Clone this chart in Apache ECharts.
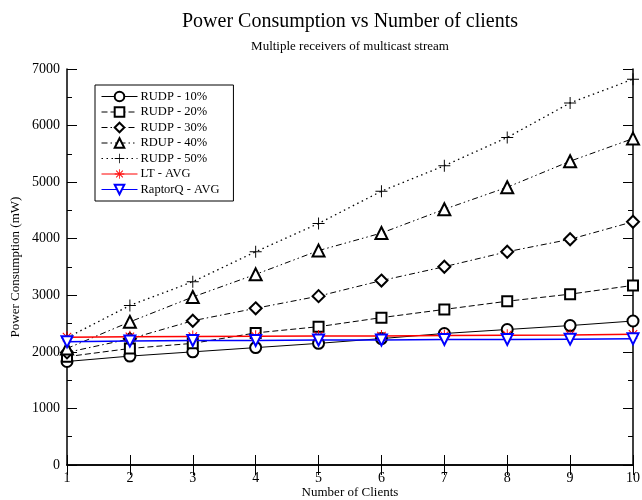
<!DOCTYPE html>
<html>
<head>
<meta charset="utf-8">
<script src="https://cdn.jsdelivr.net/npm/echarts@6/dist/echarts.min.js"></script>
<style>
  html, body { margin: 0; padding: 0; background: #fff; }
  #chart { width: 642px; height: 500px; }
</style>
</head>
<body>
<div id="chart"></div>
<script>
    var clients = [1, 2, 3, 4, 5, 6, 7, 8, 9, 10];
    var rudp10 = [1830, 1925, 2000, 2075, 2150, 2235, 2325, 2395, 2465, 2545];
    var rudp20 = [1915, 2060, 2150, 2335, 2445, 2605, 2750, 2895, 3020, 3175];
    var rudp30 = [1990, 2230, 2550, 2770, 2985, 3260, 3505, 3770, 3990, 4300];
    var rdup40 = [2060, 2530, 2970, 3370, 3790, 4100, 4520, 4910, 5370, 5770];
    var rudp50 = [2250, 2820, 3240, 3770, 4270, 4840, 5290, 5790, 6400, 6820];
    var ltAvg = [2260, 2265, 2270, 2275, 2280, 2280, 2290, 2295, 2300, 2310];
    var raptorqAvg = [2180, 2190, 2200, 2200, 2210, 2210, 2220, 2220, 2225, 2230];

    var serif = "'Liberation Serif', 'DejaVu Serif', serif";
    var plusPath = 'path://M4.6,0h0.8v10h-0.8zM0,4.6h10v0.8h-10z';
    var starPath = 'path://M4.6,0h0.8v10h-0.8zM0,4.6h10v0.8h-10zM1.2,1.8l0.6,-0.6l7,7l-0.6,0.6zM8.8,1.8l-0.6,-0.6l-7,7l0.6,0.6z';

    function pairs(vals) {
        return clients.map(function (c, i) { return [c, vals[i]]; });
    }

    function blackSeries(name, vals, symbol, dash, size, lw) {
        return {
            name: name,
            type: 'line',
            data: pairs(vals),
            symbol: symbol,
            symbolSize: size,
            showAllSymbol: true,
            itemStyle: { color: '#000', borderWidth: 0.8 },
            lineStyle: { color: '#000', width: lw || 1, type: dash },
            emphasis: { disabled: true },
            z: 3
        };
    }

    var chart = echarts.init(document.getElementById('chart'), null, { renderer: 'canvas' });

    var option = {
        backgroundColor: '#fff',
        animation: false,
        title: {
            text: 'Power Consumption vs Number of clients',
            subtext: 'Multiple receivers of multicast stream',
            left: 345,
            textAlign: 'center',
            top: 7,
            itemGap: 8,
            textStyle: { fontFamily: serif, fontSize: 20, fontWeight: 'normal', color: '#000' },
            subtextStyle: { fontFamily: serif, fontSize: 13, color: '#000' }
        },
        legend: {
            orient: 'vertical',
            left: 95,
            top: 85,
            padding: [5, 14, 5, 6],
            itemGap: 2.5,
            itemWidth: 36,
            itemHeight: 12,
            borderColor: '#000',
            borderWidth: 1,
            backgroundColor: '#fff',
            lineStyle: { width: 1 },
            textStyle: { fontFamily: serif, fontSize: 12.5, color: '#000', padding: [0, 0, 0, -2] },
            data: ['RUDP - 10%', 'RUDP - 20%', 'RUDP - 30%', 'RDUP - 40%', 'RUDP - 50%', 'LT - AVG', 'RaptorQ - AVG']
        },
        grid: { left: 67, right: 9, top: 69, bottom: 35, outerBoundsMode: 'none', containLabel: false },
        xAxis: [{
            type: 'value',
            min: 1,
            max: 10,
            interval: 1,
            name: 'Number of Clients',
            nameLocation: 'middle',
            nameGap: 25,
            nameMoveOverlap: false,
            nameTextStyle: { fontFamily: serif, fontSize: 13, color: '#000', padding: [-4, 0, 0, 0] },
            axisLine: { lineStyle: { color: '#000', width: 1.5 } },
            axisTick: { inside: true, length: 10, lineStyle: { color: '#000' } },
            axisLabel: { fontFamily: serif, fontSize: 14, color: '#000', margin: 6 },
            splitLine: { show: false }
        }, {
            type: 'value',
            position: 'top',
            min: 1,
            max: 10,
            interval: 1,
            axisLine: { show: true, lineStyle: { color: '#000', width: 1.5 } },
            axisTick: { inside: true, length: 10, lineStyle: { color: '#000' } },
            axisLabel: { show: false },
            splitLine: { show: false }
        }],
        yAxis: [{
            type: 'value',
            min: 0,
            max: 7000,
            interval: 1000,
            name: 'Power Consumption (mW)',
            nameLocation: 'middle',
            nameGap: 45,
            nameMoveOverlap: false,
            nameTextStyle: { fontFamily: serif, fontSize: 13, color: '#000' },
            axisLine: { show: true, lineStyle: { color: '#000', width: 1.5 } },
            axisTick: { inside: true, length: 10, lineStyle: { color: '#000' } },
            minorTick: { show: true, splitNumber: 2, length: 5, lineStyle: { color: '#000' } },
            axisLabel: { fontFamily: serif, fontSize: 14, color: '#000', margin: 7, formatter: function (v) { return String(v); } },
            splitLine: { show: false }
        }, {
            type: 'value',
            position: 'right',
            min: 0,
            max: 7000,
            interval: 1000,
            axisLine: { show: true, lineStyle: { color: '#000', width: 1.5 } },
            axisTick: { inside: true, length: 10, lineStyle: { color: '#000' } },
            minorTick: { show: true, splitNumber: 2, length: 5, lineStyle: { color: '#000' } },
            axisLabel: { show: false },
            splitLine: { show: false }
        }],
        series: [
            blackSeries('RUDP - 10%', rudp10, 'emptyCircle', 'solid', 11),
            blackSeries('RUDP - 20%', rudp20, 'emptyRect', [6, 3], 10),
            blackSeries('RUDP - 30%', rudp30, 'emptyDiamond', [6, 3, 1.5, 3], 12),
            blackSeries('RDUP - 40%', rdup40, 'emptyTriangle', [6, 3, 1.5, 3, 1.5, 3], 12),
            blackSeries('RUDP - 50%', rudp50, plusPath, [1.5, 3.5], 12, 1.3),
            {
                name: 'LT - AVG',
                type: 'line',
                data: pairs(ltAvg),
                symbol: starPath,
                symbolSize: 12,
                itemStyle: { color: '#ff0000' },
                lineStyle: { color: '#ff0000', width: 1.5 },
                emphasis: { disabled: true },
                z: 4
            },
            {
                name: 'RaptorQ - AVG',
                type: 'line',
                data: pairs(raptorqAvg),
                symbol: 'emptyTriangle',
                symbolRotate: 180,
                symbolSize: 11,
                itemStyle: { color: '#0000ff', borderWidth: 0.8 },
                lineStyle: { color: '#0000ff', width: 1.5 },
                emphasis: { disabled: true },
                z: 4
            }
        ]
    };

    chart.setOption(option);
</script>
</body>
</html>
